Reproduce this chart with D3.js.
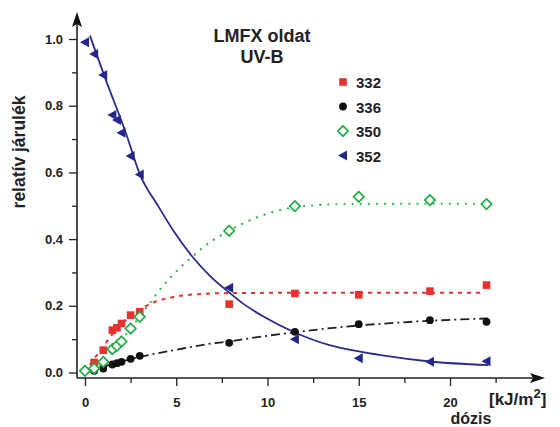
<!DOCTYPE html>
<html>
<head>
<meta charset="utf-8">
<script src="https://cdn.jsdelivr.net/npm/d3@7/dist/d3.min.js"></script>
<style>
  html, body { margin: 0; padding: 0; background: #fff; }
  svg { display: block; font-family: "Liberation Sans", Arial, sans-serif; font-weight: bold; }
</style>
</head>
<body>
<svg id="chart" width="560" height="427"></svg>
<script>
// Dose values (kJ/m2) shared by all wavelengths
const dose = [0, 0.5, 1.0, 1.5, 1.75, 2.0, 2.5, 3.0, 7.9, 11.5, 15, 18.9, 22];

// Relative contribution at each wavelength (null = no measured point)
const s332 = [null, 0.030, 0.067, 0.127, 0.134, 0.147, 0.172, 0.182, 0.205, 0.237, 0.233, 0.244, 0.262];
const s336 = [null, 0.005, 0.012, 0.024, 0.028, 0.032, 0.041, 0.050, 0.089, 0.122, 0.145, 0.157, 0.152];
const s350 = [0.005, 0.012, 0.032, 0.070, 0.080, 0.093, 0.132, 0.167, 0.425, 0.499, 0.527, 0.517, 0.505];
const s352 = [0.990, 0.955, 0.892, 0.772, 0.757, 0.719, 0.649, 0.594, 0.254, 0.100, 0.043, 0.032, 0.034];

// Fitted curves, sampled as [dose, value] pairs
const fit332 = [[0,0],[0.3,0.025],[1.1,0.085],[1.8,0.135],[2.55,0.17],[3.2,0.195],[3.84,0.212],[4.93,0.227],[6.2,0.235],[7.7,0.238],[11.5,0.239],[15,0.239],[21.8,0.239]];
const fit336 = [[0,0],[1,0.017],[2,0.033],[3.29,0.05],[4.93,0.0675],[6.76,0.0855],[7.86,0.093],[9.7,0.108],[11.54,0.121],[13.3,0.132],[15,0.141],[17,0.149],[18.87,0.155],[20.5,0.159],[22.1,0.162]];
const fit350 = [[0,0.003],[0.5,0.012],[1.0,0.035],[1.55,0.068],[2.0,0.098],[2.55,0.135],[3.0,0.168],[3.74,0.222],[4.38,0.267],[5.11,0.309],[5.84,0.345],[6.58,0.38],[7.5,0.413],[8.86,0.452],[9.77,0.472],[10.68,0.487],[12.5,0.501],[14.3,0.505],[18,0.506],[21.8,0.506]];
const fit352 = [[0.27,1.01],[1.09,0.885],[2.26,0.715],[3.0,0.595],[4.0,0.5],[4.93,0.418],[5.84,0.35],[6.9,0.287],[7.9,0.24],[8.7,0.205],[9.8,0.167],[11.5,0.12],[13.4,0.082],[15,0.063],[16.2,0.052],[18.9,0.033],[22.1,0.022]];

const xTicks = [0, 5, 10, 15, 20];
const xMinor = [2.5, 7.5, 12.5, 17.5, 22.5];
const yTicks = [0, 0.2, 0.4, 0.6, 0.8, 1.0];
const yMinor = [0.1, 0.3, 0.5, 0.7, 0.9];

const seriesNames = ["332", "336", "350", "352"];
const titleLines = ["LMFX oldat", "UV-B"];

const svg = d3.select("#chart");

const x = d3.scaleLinear().domain([0, 20]).range([85, 450]);
const y = d3.scaleLinear().domain([0, 1]).range([372.5, 39]);

const axisColor = "#222";
const axisX0 = 77, axisY0 = 378;

// ---- axes ----
const gx = svg.append("g").attr("transform", `translate(0,${axisY0})`);
gx.call(d3.axisBottom(x).tickValues(xTicks).tickSize(8).tickPadding(12).tickFormat(d3.format("d")));
gx.append("g").call(d3.axisBottom(x).tickValues(xMinor).tickSize(5).tickFormat(""));
gx.selectAll(".domain").remove();
gx.selectAll("line").attr("stroke", axisColor).attr("stroke-width", 1.3);
gx.selectAll("text").attr("fill", "#222").style("font-size", "13px").style("font-weight", "bold")
  .style("font-family", "'Liberation Sans', Arial, sans-serif");

const gy = svg.append("g").attr("transform", `translate(${axisX0},0)`);
gy.call(d3.axisLeft(y).tickValues(yTicks).tickSize(8).tickPadding(6).tickFormat(d3.format(".1f")));
gy.append("g").call(d3.axisLeft(y).tickValues(yMinor).tickSize(5).tickFormat(""));
gy.selectAll(".domain").remove();
gy.selectAll("line").attr("stroke", axisColor).attr("stroke-width", 1.3);
gy.selectAll("text").attr("fill", "#222").style("font-size", "13px").style("font-weight", "bold")
  .style("font-family", "'Liberation Sans', Arial, sans-serif");

// axis lines with arrowheads
svg.append("line").attr("x1", axisX0).attr("y1", axisY0).attr("x2", 534).attr("y2", axisY0)
  .attr("stroke", axisColor).attr("stroke-width", 1.6);
svg.append("path").attr("d", `M545,${axisY0} L530,${axisY0 - 5} L533,${axisY0} L530,${axisY0 + 5} Z`).attr("fill", "#111");
svg.append("line").attr("x1", axisX0).attr("y1", axisY0).attr("x2", axisX0).attr("y2", 22)
  .attr("stroke", axisColor).attr("stroke-width", 1.6);
svg.append("path").attr("d", `M${axisX0},12 L${axisX0 - 5},27 L${axisX0},24 L${axisX0 + 5},27 Z`).attr("fill", "#111");

// axis titles
svg.append("text").attr("transform", "translate(25,152) rotate(-90)")
  .attr("text-anchor", "middle").style("font-size", "17.5px").attr("fill", "#222").text("relatív járulék");

const unit = svg.append("text").attr("x", 489).attr("y", 405).style("font-size", "17px").attr("fill", "#222");
unit.append("tspan").text("[kJ/m");
unit.append("tspan").attr("dy", -7).style("font-size", "13px").text("2");
unit.append("tspan").attr("dy", 7).text("]");

svg.append("text").attr("x", 471).attr("y", 424).attr("text-anchor", "middle")
  .style("font-size", "16px").attr("fill", "#222").text("dózis");

// title
svg.append("g").selectAll("text").data(titleLines).join("text")
  .attr("x", 262).attr("y", (d, i) => 42 + i * 21).attr("text-anchor", "middle")
  .style("font-size", "18px").attr("fill", "#222").text(d => d);

// ---- fitted curves ----
const line = d3.line().x(d => x(d[0])).y(d => y(d[1])).curve(d3.curveMonotoneX);

svg.append("path").datum(fit350).attr("d", line).attr("fill", "none")
  .attr("stroke", "#2fb54a").attr("stroke-width", 2.2).attr("stroke-linecap", "round")
  .attr("stroke-dasharray", "0.1 8");
svg.append("path").datum(fit332).attr("d", line).attr("fill", "none")
  .attr("stroke", "#e8322f").attr("stroke-width", 2).attr("stroke-dasharray", "4 5");
svg.append("path").datum(fit336).attr("d", line).attr("fill", "none")
  .attr("stroke", "#222").attr("stroke-width", 1.8).attr("stroke-dasharray", "9 4 2 4");
svg.append("path").datum(fit352).attr("d", line).attr("fill", "none")
  .attr("stroke", "#2b2a8a").attr("stroke-width", 1.8);

// ---- markers ----
const pts = vals => dose.map((d, i) => [d, vals[i]]).filter(p => p[1] !== null);

const red = "#e8322f", green = "#1fae45", navy = "#23268c";

function drawSquare(g, cx, cy) {
  g.append("rect").attr("x", cx - 3.8).attr("y", cy - 3.8).attr("width", 7.6).attr("height", 7.6).attr("fill", red);
}
function drawCircle(g, cx, cy) {
  g.append("circle").attr("cx", cx).attr("cy", cy).attr("r", 3.9).attr("fill", "#111");
}
function drawDiamond(g, cx, cy) {
  g.append("path").attr("d", `M${cx},${cy - 5.2} L${cx + 5.2},${cy} L${cx},${cy + 5.2} L${cx - 5.2},${cy} Z`)
    .attr("fill", "#fff").attr("stroke", green).attr("stroke-width", 1.7);
}
function drawTriangle(g, cx, cy) {
  g.append("path").attr("d", `M${cx - 5},${cy} L${cx + 4},${cy - 5} L${cx + 4},${cy + 5} Z`).attr("fill", navy);
}

const markers = svg.append("g");
pts(s332).forEach(p => drawSquare(markers, x(p[0]), y(p[1])));
pts(s336).forEach(p => drawCircle(markers, x(p[0]), y(p[1])));
pts(s350).forEach(p => drawDiamond(markers, x(p[0]), y(p[1])));
pts(s352).forEach(p => drawTriangle(markers, x(p[0]), y(p[1])));

// ---- legend ----
const drawers = [drawSquare, drawCircle, drawDiamond, drawTriangle];
const legend = svg.append("g");
seriesNames.forEach((name, i) => {
  const cy = 82 + i * 24.5;
  drawers[i](legend, 343, cy);
  legend.append("text").attr("x", 356).attr("y", cy + 6).style("font-size", "15px")
    .attr("fill", "#222").text(name);
});
</script>
</body>
</html>
